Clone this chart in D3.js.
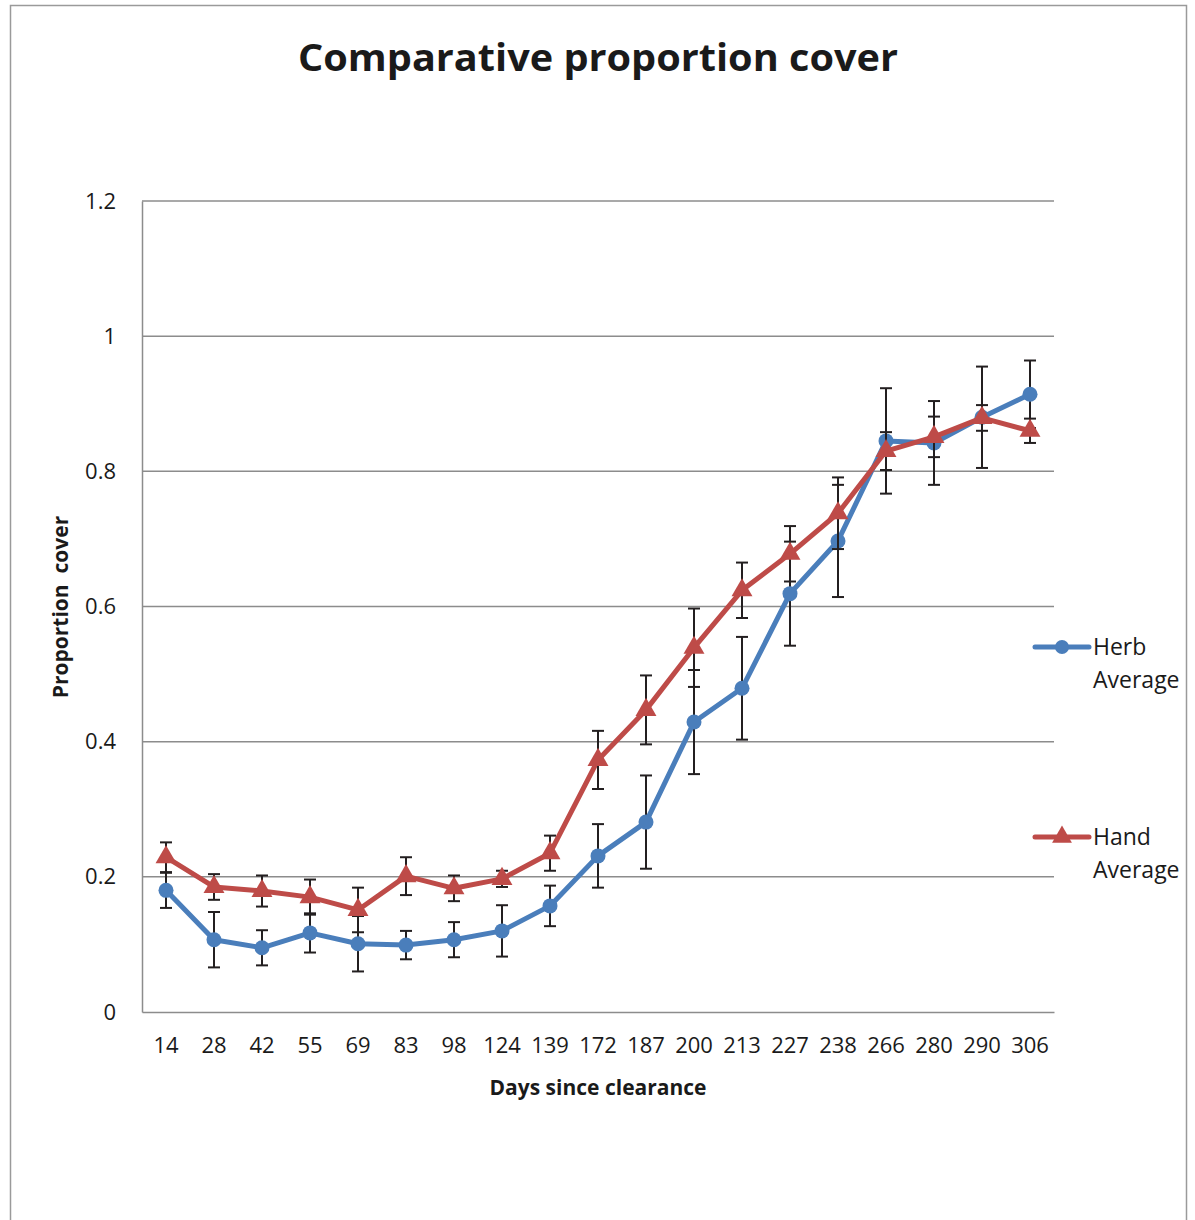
<!DOCTYPE html>
<html><head><meta charset="utf-8">
<script src="https://cdn.jsdelivr.net/npm/d3@7"></script>
<style>body{margin:0;background:#fff;} text{font-family:"Open Sans","Noto Sans",sans-serif;}</style>
</head><body>
<svg id="c" width="1195" height="1220"></svg>
<script>
const days = ["14","28","42","55","69","83","98","124","139","172","187","200","213","227","238","266","280","290","306"];
const herbAvg = [0.180,0.107,0.095,0.117,0.101,0.099,0.107,0.120,0.157,0.231,0.281,0.429,0.479,0.619,0.697,0.845,0.842,0.880,0.914];
const herbErr = [0.026,0.041,0.026,0.029,0.041,0.021,0.026,0.038,0.030,0.047,0.069,0.077,0.076,0.077,0.083,0.078,0.062,0.075,0.050];
const handAvg = [0.229,0.185,0.179,0.170,0.151,0.201,0.183,0.197,0.235,0.373,0.447,0.539,0.624,0.678,0.738,0.830,0.851,0.879,0.860];
const handErr = [0.022,0.019,0.023,0.026,0.033,0.028,0.019,0.012,0.026,0.043,0.051,0.058,0.041,0.041,0.053,0.028,0.030,0.019,0.018];
const yTicks = [0,0.2,0.4,0.6,0.8,1,1.2];
const seriesNames = ["Herb", "Hand"];

const svg = d3.select("#c");
const L=142, R=1054, T=201, B=1012;
const x = d3.scaleBand().domain(days).range([L,R]);
const y = d3.scaleLinear().domain([0,1.2]).range([B,T]);
const cx = d => x(d)+x.bandwidth()/2;

// outer border
svg.append("rect").attr("x",10.5).attr("y",5.5).attr("width",1176).attr("height",1230)
  .attr("fill","none").attr("stroke","#9a9a9a").attr("stroke-width",1.5);

// title
svg.append("text").attr("x",598).attr("y",71).attr("text-anchor","middle")
  .attr("font-size",38).attr("font-weight","bold").attr("fill","#1a1a1a")
  .attr("textLength",600).attr("lengthAdjust","spacingAndGlyphs")
  .text("Comparative proportion cover");

// gridlines
svg.append("g").selectAll("line").data(yTicks.slice(1)).join("line")
  .attr("x1",L).attr("x2",R).attr("y1",d=>y(d)).attr("y2",d=>y(d))
  .attr("stroke","#8c8c8c").attr("stroke-width",1.5);

// y axis
const ya = svg.append("g").attr("transform",`translate(${L},0)`)
  .call(d3.axisLeft(y).tickValues(yTicks).tickSize(0).tickPadding(26).tickFormat(d=>d3.format("")(d)));
ya.select(".domain").attr("stroke","#8c8c8c").attr("stroke-width",1.5);
ya.selectAll("text").attr("font-size",22).attr("fill","#1a1a1a").attr("font-family","'Open Sans',sans-serif");

// x axis
const xa = svg.append("g").attr("transform",`translate(0,${B})`)
  .call(d3.axisBottom(x).tickSize(0).tickPadding(25));
xa.select(".domain").attr("stroke","#8c8c8c").attr("stroke-width",1.5);
xa.selectAll("text").attr("font-size",22).attr("fill","#1a1a1a").attr("font-family","'Open Sans',sans-serif");

// axis titles
svg.append("text").attr("x",598).attr("y",1095).attr("text-anchor","middle")
  .attr("font-size",21).attr("font-weight","bold").attr("fill","#1a1a1a").text("Days since clearance");
svg.append("text").attr("transform","translate(68,607) rotate(-90)").attr("text-anchor","middle")
  .attr("font-size",21).attr("font-weight","bold").attr("fill","#1a1a1a").attr("xml:space","preserve").text("Proportion  cover");

const colors = ["#4a7ebb","#be4b48"];
const datas = [herbAvg, handAvg];
const errs = [herbErr, handErr];
const line = d3.line().x((d,i)=>cx(days[i])).y(d=>y(d));

datas.forEach((vals,s)=>{
  const g = svg.append("g");
  g.append("path").datum(vals).attr("d",line).attr("fill","none")
    .attr("stroke",colors[s]).attr("stroke-width",5).attr("stroke-linejoin","round");
  const eb = g.append("g").attr("stroke","#231f20").attr("stroke-width",2);
  vals.forEach((v,i)=>{
    const xc = cx(days[i]), e = errs[s][i];
    eb.append("line").attr("x1",xc).attr("x2",xc).attr("y1",y(v+e)).attr("y2",y(v-e));
    eb.append("line").attr("x1",xc-6).attr("x2",xc+6).attr("y1",y(v+e)).attr("y2",y(v+e));
    eb.append("line").attr("x1",xc-6).attr("x2",xc+6).attr("y1",y(v-e)).attr("y2",y(v-e));
  });
  if(s===0){
    g.selectAll("circle").data(vals).join("circle")
      .attr("cx",(d,i)=>cx(days[i])).attr("cy",d=>y(d)).attr("r",7.5).attr("fill",colors[s]);
  } else {
    const tri = d3.symbol().type(d3.symbolTriangle).size(190);
    g.selectAll("path.m").data(vals).join("path").attr("class","m")
      .attr("transform",(d,i)=>`translate(${cx(days[i])},${y(d)})`).attr("d",tri).attr("fill",colors[s]);
  }
});

// legend
const legY = [647, 837];
legY.forEach((ly,s)=>{
  const g = svg.append("g");
  g.append("line").attr("x1",1035).attr("x2",1089).attr("y1",ly).attr("y2",ly)
    .attr("stroke",colors[s]).attr("stroke-width",5).attr("stroke-linecap","round");
  if(s===0) g.append("circle").attr("cx",1062).attr("cy",ly).attr("r",7).attr("fill",colors[s]);
  else g.append("path").attr("transform",`translate(1062,${ly})`).attr("d",d3.symbol().type(d3.symbolTriangle).size(170)).attr("fill",colors[s]);
  const t = g.append("text").attr("x",1093).attr("y",ly+8).attr("font-size",23).attr("fill","#1a1a1a");
  t.append("tspan").attr("x",1093).text(seriesNames[s]);
  t.append("tspan").attr("x",1093).attr("dy",33).text("Average");
});
</script>
</body></html>
